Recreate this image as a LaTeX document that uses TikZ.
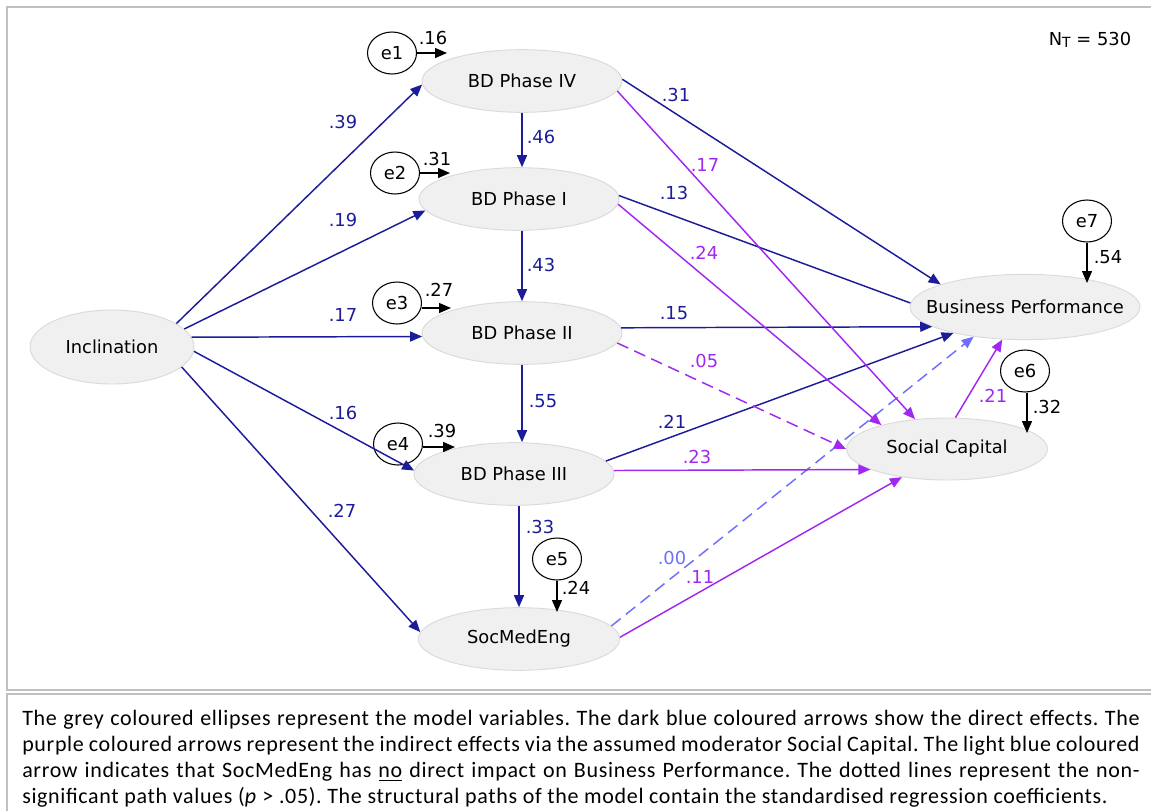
\documentclass[tikz,border=0pt]{standalone}
\usepackage{fontspec}
\setmainfont{DejaVu Sans}
\newfontfamily\capfont[LetterSpace=3]{Carlito}
\usetikzlibrary{arrows.meta,shapes.geometric}

\definecolor{dblue}{RGB}{28,28,155}
\definecolor{purp}{RGB}{160,40,240}
\definecolor{lblue}{RGB}{110,110,255}
\definecolor{varfill}{RGB}{240,240,240}
\definecolor{varline}{RGB}{218,218,218}
\definecolor{framegray}{RGB}{192,192,192}

\begin{document}
\frenchspacing
\begin{tikzpicture}[x=0.75pt,y=-0.75pt,
  font=\fontsize{13.4}{15}\selectfont,
  var/.style={ellipse, fill=varfill, draw=varline, line width=0.7pt, inner sep=0pt},
  err/.style={ellipse, draw=black, fill=white, line width=0.8pt,
    minimum width=36.75pt, minimum height=31.5pt, inner sep=0pt},
  arrowtip/.style={-{Triangle[length=9pt,width=7.5pt]}},
  direct/.style={arrowtip, draw=dblue, line width=1.1pt},
  indirect/.style={arrowtip, draw=purp, line width=1.1pt},
  nodirect/.style={arrowtip, draw=lblue, line width=1.1pt, dash pattern=on 9pt off 5pt},
  nsdash/.style={dash pattern=on 9pt off 5pt},
  residual/.style={arrowtip, draw=black, line width=1pt},
  lab/.style={inner sep=0pt},
]
\useasboundingbox (0,0) rectangle (1151,810);

% frames
\draw[framegray, line width=1.5pt] (1170,7) -- (7,7) -- (7,690) -- (1170,690);
\draw[framegray, line width=1.5pt] (1170,694) -- (7,694) -- (7,830);

% model variables
\node[var, minimum width=123pt, minimum height=55.5pt, label=center:Inclination] (incl) at (112,347) {};
\node[var, minimum width=150pt, minimum height=47pt, label=center:BD Phase IV] (p4) at (522,81) {};
\node[var, minimum width=150pt, minimum height=47pt, label=center:BD Phase I] (p1) at (519,199) {};
\node[var, minimum width=150pt, minimum height=47pt, label=center:BD Phase II] (p2) at (522,333) {};
\node[var, minimum width=150pt, minimum height=47pt, label=center:BD Phase III] (p3) at (514,474) {};
\node[var, minimum width=151pt, minimum height=47pt, label=center:SocMedEng] (sme) at (519,639) {};
\node[var, minimum width=172.5pt, minimum height=49pt, label=center:Business Performance] (bp) at (1025,307) {};
\node[var, minimum width=150.75pt, minimum height=46.5pt, label=center:Social Capital] (sc) at (947,449) {};

% residuals
\node[err] (e1) at (392,53) {e1};
\node[err] (e2) at (395,173) {e2};
\node[err] (e3) at (397,303) {e3};
\node[err] (e4) at (398,444) {e4};
\node[err] (e5) at (557,559) {e5};
\node[err] (e6) at (1025,371) {e6};
\node[err] (e7) at (1087,221) {e7};

\coordinate (t1) at (447,53);
\coordinate (t2) at (450,173);
\coordinate (t3) at (451,308);
\coordinate (t4) at (455,447);
\coordinate (t5) at (557,612);
\coordinate (t6) at (1027,433);
\coordinate (t7) at (1087,283);

\draw[residual] (e1.east |- t1) -- (t1);
\draw[residual] (e2.east |- t2) -- (t2);
\draw[residual] (e3.east |- t3) -- (t3);
\draw[residual] (e4.east |- t4) -- (t4);
\draw[residual] (e5.south) -- (t5);
\draw[residual] (e6.south -| t6) -- (t6);
\draw[residual] (e7.south) -- (t7);

\node[lab] (r1) at (433,38) {.16};
\node[lab] (r2) at (437,159) {.31};
\node[lab] (r3) at (439,290) {.27};
\node[lab] (r4) at (442,431) {.39};
\node[lab] (r5) at (576,588) {.24};
\node[lab] (r6) at (1047,407) {.32};
\node[lab] (r7) at (1108,257) {.54};

% direct effects of Inclination
\draw[direct] (incl.20) -- (p4.182);
\draw[direct] (incl.14) -- (p1.187);
\draw[direct] (incl.7) -- (p2.182);
\draw[direct] (incl.-3) -- (p3.178);
\draw[direct] (incl.-16) -- (sme.176);

% chain of phases
\draw[direct] (p4.south) -- (p4.south |- p1.north);
\draw[direct] (p1.south -| p2.north) -- (p2.north);
\draw[direct] (p2.south) -- (p2.south |- p3.north);
\draw[direct] (sme.north |- p3.south) -- (sme.north);

% direct effects on Business Performance
\draw[direct] (p4.1) -- (bp.165);
\draw[dblue, line width=1.1pt] (p1.2) -- (bp.178);
\draw[direct] (p2.3) -- (bp.192);
\draw[direct] (p3.8) -- (bp.200);
\draw[nodirect] (sme.8) -- (bp.210);

% paths via Social Capital
\draw[indirect] (p4.-6) -- (sc.137);
\draw[indirect] (p1.-3) -- (sc.160);
\draw[indirect, nsdash] (p2.-6) -- (sc.west);
\draw[indirect] (p3.2) -- (sc.195);
\draw[indirect] (sme.1) -- (sc.212);
\draw[indirect] (sc.75) -- (bp.235);

% path coefficients
\node[lab, text=dblue] (c1) at (343,122) {.39};
\node[lab, text=dblue] (c2) at (343,220) {.19};
\node[lab, text=dblue] (c3) at (343,315) {.17};
\node[lab, text=dblue] (c4) at (343,413) {.16};
\node[lab, text=dblue] (c5) at (342,511) {.27};
\node[lab, text=dblue] (c6) at (541,137) {.46};
\node[lab, text=dblue] (c7) at (541,265) {.43};
\node[lab, text=dblue] (c8) at (543,401) {.55};
\node[lab, text=dblue] (c9) at (540,527) {.33};
\node[lab, text=dblue] (c10) at (676,95) {.31};
\node[lab, text=dblue] (c11) at (674,193) {.13};
\node[lab, text=dblue] (c12) at (674,313) {.15};
\node[lab, text=dblue] (c13) at (672,422) {.21};
\node[lab, text=lblue] (c14) at (672,558) {.00};
\node[lab, text=purp] (c15) at (705,165) {.17};
\node[lab, text=purp] (c16) at (704,253) {.24};
\node[lab, text=purp] (c17) at (704,361) {.05};
\node[lab, text=purp] (c18) at (697,457) {.23};
\node[lab, text=purp] (c19) at (700,577) {.11};
\node[lab, text=purp] (c20) at (993,396) {.21};

% sample size
\node[lab] (nt) at (1090,40) {N\raisebox{-2pt}{\fontsize{10.5}{12}\selectfont T} = 530};

% legend text
\node[anchor=north west, inner sep=0pt, align=left,
  font=\capfont\fontsize{16.5}{19.6}\selectfont] (caption) at (22,710) {%
\makebox[838pt][s]{The grey coloured ellipses represent the model variables. The dark blue coloured arrows show the direct effects. The}\\
\makebox[838pt][s]{purple coloured arrows represent the indirect effects via the assumed moderator Social Capital. The light blue coloured}\\
\makebox[838pt][s]{arrow indicates that SocMedEng has \underline{no} direct impact on Business Performance. The dotted lines represent the non-}\\
\makebox[838pt][l]{significant path values (\textit{p} > .05). The structural paths of the model contain the standardised regression coefficients.}};
\end{tikzpicture}
\end{document}
